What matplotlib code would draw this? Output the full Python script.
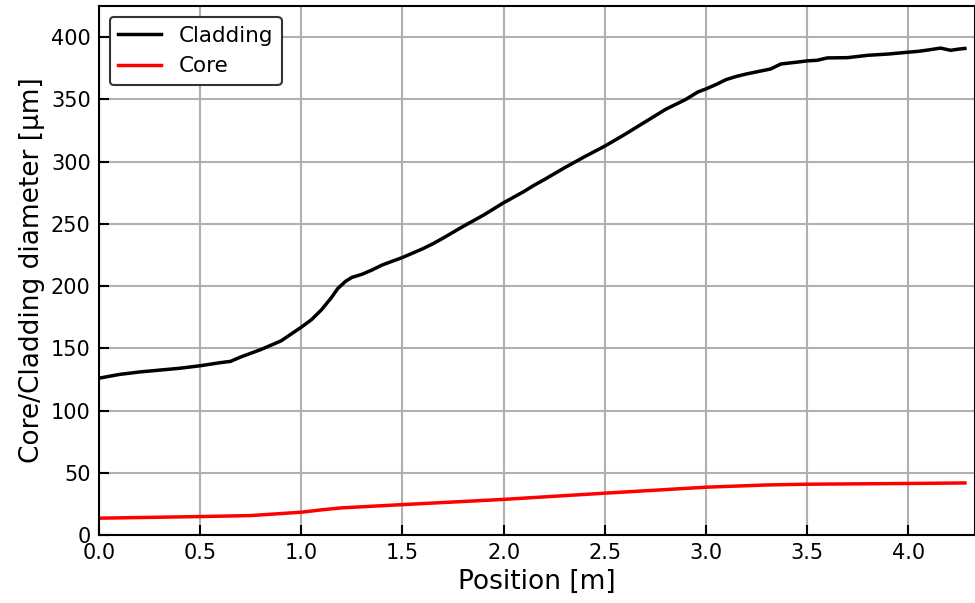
import numpy as np
import matplotlib.pyplot as plt

# position along the fiber [m]
pos_clad = [0.0, 0.1, 0.2, 0.3, 0.4, 0.5, 0.6, 0.65, 0.7, 0.8, 0.9, 1.0, 1.05,
            1.1, 1.15, 1.18, 1.22, 1.25, 1.3, 1.35, 1.4, 1.5, 1.6, 1.65, 1.7,
            1.8, 1.9, 2.0, 2.1, 2.15, 2.2, 2.3, 2.4, 2.5, 2.6, 2.7, 2.8, 2.9,
            2.96, 3.0, 3.05, 3.1, 3.15, 3.2, 3.32, 3.37, 3.45, 3.5, 3.55, 3.6,
            3.7, 3.8, 3.85, 3.9, 4.0, 4.05, 4.1, 4.16, 4.21, 4.25, 4.28]
cladding = [126, 129, 131, 132.5, 134, 136, 138.5, 139.5, 143, 149, 156, 167, 173,
            181, 191, 198, 204, 207, 209.5, 213, 217, 223, 230, 234, 238.5,
            248, 257, 267, 276, 281, 285.5, 295, 304, 312.5, 322, 332, 342, 350,
            356, 358.5, 362, 366, 368.5, 370.5, 374.5, 378.5, 380, 381, 381.5, 383.4,
            383.6, 385.5, 386, 386.5, 388, 388.7, 389.8, 391.3, 389.5, 390.5, 391]

pos_core = [0.0, 0.5, 0.75, 1.0, 1.1, 1.2, 1.5, 2.0, 2.5, 3.0, 3.3, 3.5, 4.0, 4.28]
core = [13.5, 14.8, 15.6, 18.3, 20.2, 21.8, 24.4, 28.6, 33.6, 38.4, 40.2, 40.8, 41.4, 41.8]

fig = plt.figure(figsize=(9.75, 6.03), dpi=100)
ax = fig.add_axes([0.1015, 0.1128, 0.8985, 0.877])

ax.plot(pos_clad, cladding, color='black', lw=2.5, label='Cladding')
ax.plot(pos_core, core, color='red', lw=2.5, label='Core')

ax.set_xlim(0, 4.33)
ax.set_ylim(0, 425)
ax.set_xticks(np.arange(0, 4.01, 0.5))
ax.set_yticks(np.arange(0, 401, 50))
ax.grid(True, color='#b0b0b0', lw=1.5)
ax.tick_params(direction='in', length=7, width=1.5, labelsize=15, pad=6)
for s in ax.spines.values():
    s.set_linewidth(1.5)

ax.set_xlabel('Position [m]', fontsize=19)
ax.set_ylabel('Core/Cladding diameter [µm]', fontsize=19)

leg = ax.legend(loc='upper left', fontsize=15.5, framealpha=1, fancybox=True)
leg.get_frame().set_edgecolor('#333333')
leg.get_frame().set_linewidth(1.5)

fig.savefig('out.png', dpi=100)
